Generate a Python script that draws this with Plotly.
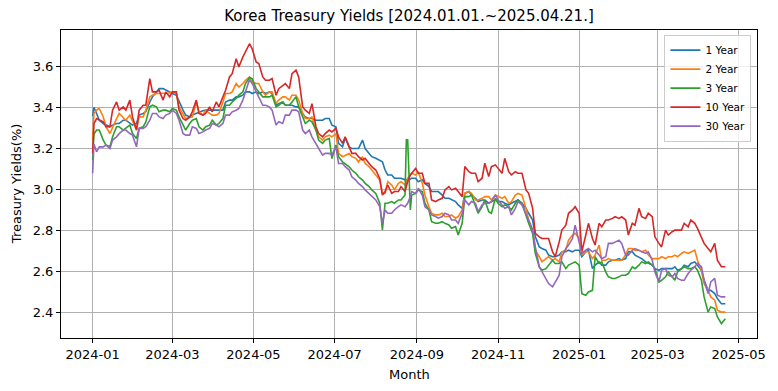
import plotly.graph_objects as go

# ---- dates (sampled) ----
dates = [
 "2024-01-01","2024-01-02","2024-01-04","2024-01-06","2024-01-09","2024-01-11","2024-01-14","2024-01-16","2024-01-19","2024-01-21",
 "2024-01-24","2024-01-26","2024-01-29","2024-01-31","2024-02-03","2024-02-05","2024-02-08","2024-02-10","2024-02-13","2024-02-15",
 "2024-02-18","2024-02-20","2024-02-23","2024-02-25","2024-02-28","2024-03-01","2024-03-04","2024-03-06","2024-03-09","2024-03-11",
 "2024-03-14","2024-03-16","2024-03-19","2024-03-21","2024-03-24","2024-03-26","2024-03-29","2024-03-31","2024-04-03","2024-04-05",
 "2024-04-08",
 "2024-04-10","2024-04-13","2024-04-15","2024-04-18","2024-04-20","2024-04-23","2024-04-25","2024-04-28","2024-04-30","2024-05-03",
 "2024-05-05","2024-05-08","2024-05-10","2024-05-13","2024-05-15","2024-05-18","2024-05-20","2024-05-23","2024-05-25","2024-05-28",
 "2024-05-30","2024-06-02","2024-06-04","2024-06-07","2024-06-09","2024-06-12","2024-06-14","2024-06-17","2024-06-19","2024-06-22",
 "2024-06-24","2024-06-27","2024-06-29","2024-07-02","2024-07-04","2024-07-07","2024-07-09","2024-07-12","2024-07-14","2024-07-17",
 "2024-07-19","2024-07-22","2024-07-24","2024-07-27","2024-07-29","2024-08-01","2024-08-04","2024-08-06",
 "2024-08-08","2024-08-10","2024-08-13","2024-08-15","2024-08-18","2024-08-20","2024-08-23","2024-08-24","2024-08-25","2024-08-27",
 "2024-08-28","2024-08-31","2024-09-02","2024-09-05","2024-09-07","2024-09-10","2024-09-12","2024-09-15","2024-09-17","2024-09-20",
 "2024-09-22","2024-09-25","2024-09-27","2024-09-30","2024-10-02","2024-10-05","2024-10-07","2024-10-10","2024-10-12","2024-10-15",
 "2024-10-17","2024-10-20","2024-10-22","2024-10-25","2024-10-27","2024-10-30","2024-11-01","2024-11-04","2024-11-06","2024-11-09",
 "2024-11-11","2024-11-14","2024-11-16","2024-11-19","2024-11-22","2024-11-24","2024-11-27","2024-11-29",
 "2024-12-02","2024-12-04","2024-12-07","2024-12-09","2024-12-12","2024-12-14","2024-12-17","2024-12-19","2024-12-22","2024-12-24",
 "2024-12-27","2024-12-29","2025-01-01","2025-01-03","2025-01-06","2025-01-08","2025-01-11","2025-01-13","2025-01-16","2025-01-18",
 "2025-01-21","2025-01-23","2025-01-26","2025-01-28","2025-01-31","2025-02-02","2025-02-05","2025-02-07","2025-02-10","2025-02-12",
 "2025-02-15","2025-02-17","2025-02-20","2025-02-22","2025-02-25","2025-02-27","2025-03-02","2025-03-04","2025-03-07","2025-03-09",
 "2025-03-12","2025-03-14","2025-03-16","2025-03-19","2025-03-21","2025-03-24","2025-03-26","2025-03-29","2025-03-31","2025-04-03",
 "2025-04-05","2025-04-08","2025-04-10","2025-04-13","2025-04-15","2025-04-18","2025-04-21",
]

y1 = [
 3.357,3.40,3.37,3.337,3.321,3.313,3.305,3.313,3.321,3.321,3.337,3.337,3.321,3.313,3.321,3.362,3.370,3.378,3.426,3.451,
 3.475,3.491,3.491,3.483,3.475,3.467,3.459,3.426,3.386,3.362,3.353,3.362,3.370,3.378,3.383,3.386,3.386,3.386,3.386,3.386,
 3.386,
 3.426,3.435,3.435,3.451,3.451,3.459,3.475,3.475,3.467,3.475,3.467,3.475,3.467,3.475,3.467,3.410,3.418,3.426,3.410,3.410,
 3.410,3.402,3.402,3.370,3.353,3.345,3.345,3.337,3.337,3.337,3.345,3.345,3.313,3.305,3.224,3.207,3.25,3.207,3.199,3.199,
 3.199,3.24,3.199,3.175,3.159,3.151,3.143,3.134,
 3.094,3.070,3.070,3.054,3.054,3.054,3.046,3.046,3.046,3.05,3.054,3.054,3.037,3.046,3.029,3.013,2.989,2.989,2.989,2.972,
 2.956,2.956,2.948,2.940,2.924,2.907,2.980,2.989,2.972,2.956,2.940,2.948,2.948,2.932,2.940,2.948,2.940,2.940,2.932,2.924,
 2.932,2.940,2.948,2.932,2.907,2.883,2.850,2.769,
 2.719,2.711,2.703,2.679,2.671,2.671,2.679,2.695,2.695,2.703,2.695,2.703,2.703,2.671,2.695,2.703,2.613,2.630,2.646,2.630,
 2.630,2.646,2.654,2.654,2.662,2.654,2.662,2.695,2.695,2.679,2.671,2.662,2.646,2.638,2.630,2.613,2.605,2.613,2.613,2.613,
 2.613,2.622,2.605,2.613,2.630,2.622,2.638,2.646,2.630,2.605,2.556,2.507,2.507,2.491,2.467,2.442,2.442,
]

y2 = [
 3.240,3.370,3.386,3.394,3.353,3.305,3.272,3.305,3.345,3.370,3.353,3.337,3.362,3.329,3.289,3.353,3.353,3.386,3.451,3.459,
 3.467,3.467,3.467,3.467,3.470,3.475,3.467,3.402,3.370,3.345,3.350,3.353,3.426,3.378,3.362,3.386,3.370,3.362,3.362,3.370,
 3.426,
 3.467,3.467,3.475,3.516,3.499,3.516,3.532,3.548,3.524,3.516,3.516,3.475,3.459,3.475,3.475,3.418,3.435,3.451,3.451,3.435,
 3.459,3.459,3.435,3.370,3.345,3.345,3.353,3.289,3.256,3.240,3.256,3.264,3.256,3.272,3.175,3.159,3.167,3.175,3.159,3.151,
 3.134,3.159,3.126,3.110,3.094,3.070,3.045,2.980,
 2.980,3.037,3.021,2.997,3.029,3.037,3.021,3.029,3.054,3.070,3.078,3.070,3.086,3.029,2.972,2.915,2.883,2.875,2.875,2.883,
 2.867,2.867,2.875,2.859,2.867,2.899,2.980,2.989,2.980,2.948,2.948,2.956,2.964,2.964,2.948,2.972,2.964,2.956,2.964,2.932,
 2.940,2.972,2.980,2.972,2.907,2.850,2.802,2.704,
 2.671,2.646,2.662,2.671,2.654,2.662,2.646,2.695,2.703,2.752,2.777,2.785,2.760,2.679,2.695,2.695,2.662,2.679,2.728,2.654,
 2.654,2.662,2.654,2.654,2.654,2.654,2.679,2.711,2.711,2.703,2.703,2.695,2.703,2.679,2.662,2.662,2.662,2.671,2.662,2.671,
 2.671,2.679,2.671,2.687,2.695,2.687,2.695,2.703,2.654,2.605,2.540,2.507,2.475,2.459,2.410,2.401,2.401,
]

y3 = [
 3.143,3.27,3.289,3.289,3.240,3.216,3.207,3.256,3.305,3.305,3.289,3.297,3.313,3.272,3.248,3.297,3.305,3.329,3.402,3.410,
 3.402,3.378,3.386,3.386,3.378,3.394,3.386,3.353,3.313,3.289,3.321,3.337,3.345,3.305,3.289,3.305,3.313,3.337,3.313,3.321,
 3.345,
 3.410,3.410,3.426,3.443,3.459,3.475,3.516,3.545,3.540,3.491,3.475,3.451,3.451,3.451,3.459,3.402,3.410,3.426,3.410,3.410,
 3.426,3.451,3.402,3.353,3.321,3.337,3.329,3.289,3.240,3.224,3.240,3.248,3.15,3.216,3.159,3.134,3.126,3.110,3.094,3.078,
 3.061,3.045,3.029,3.013,2.997,2.980,2.932,2.802,
 2.932,2.932,2.940,2.932,2.948,2.948,2.972,3.241,3.241,2.899,2.972,2.980,2.997,2.989,2.932,2.899,2.842,2.834,2.834,2.842,
 2.834,2.826,2.810,2.818,2.777,2.834,2.964,2.964,2.972,2.915,2.883,2.915,2.948,2.891,2.883,2.956,2.932,2.915,2.924,2.915,
 2.899,2.932,2.948,2.932,2.867,2.834,2.785,2.688,
 2.622,2.605,2.613,2.630,2.654,2.638,2.638,2.646,2.613,2.630,2.638,2.646,2.630,2.491,2.483,2.499,2.507,2.671,2.638,2.646,
 2.597,2.573,2.565,2.565,2.573,2.581,2.581,2.589,2.622,2.613,2.630,2.646,2.638,2.646,2.630,2.613,2.548,2.556,2.573,2.597,
 2.573,2.556,2.597,2.613,2.622,2.613,2.613,2.622,2.605,2.556,2.475,2.401,2.426,2.418,2.377,2.345,2.369,
]

y10 = [
 3.175,3.32,3.345,3.337,3.329,3.305,3.305,3.386,3.426,3.386,3.402,3.386,3.435,3.353,3.289,3.386,3.410,3.410,3.540,3.475,
 3.475,3.483,3.435,3.475,3.451,3.475,3.475,3.386,3.345,3.337,3.353,3.378,3.435,3.370,3.362,3.370,3.402,3.378,3.426,3.402,
 3.451,
 3.483,3.548,3.564,3.637,3.597,3.645,3.670,3.710,3.686,3.621,3.613,3.548,3.532,3.532,3.540,3.459,3.491,3.508,3.516,3.491,
 3.564,3.581,3.548,3.402,3.386,3.370,3.418,3.305,3.272,3.256,3.272,3.289,3.280,3.297,3.256,3.224,3.256,3.207,3.175,3.175,
 3.159,3.143,3.151,3.126,3.110,3.094,3.053,2.972,
 2.989,3.021,2.980,2.989,2.989,3.013,2.989,3.013,3.037,3.070,3.078,3.102,3.078,3.078,3.029,3.029,2.948,2.940,2.948,2.956,
 2.997,3.013,2.997,3.005,2.989,2.964,3.111,3.086,3.078,3.078,3.037,3.054,3.127,3.062,3.111,3.119,3.102,3.078,3.151,3.086,
 3.070,3.086,3.078,3.078,2.997,2.980,2.907,2.785,
 2.768,2.760,2.760,2.760,2.695,2.671,2.744,2.801,2.825,2.883,2.899,2.915,2.883,2.695,2.777,2.834,2.760,2.728,2.834,2.817,
 2.850,2.850,2.858,2.866,2.858,2.866,2.850,2.777,2.834,2.825,2.907,2.866,2.858,2.883,2.866,2.768,2.736,2.719,2.801,2.777,
 2.793,2.801,2.801,2.801,2.834,2.817,2.850,2.834,2.809,2.760,2.736,2.711,2.695,2.736,2.654,2.622,2.622,
]

y30 = [
 3.078,3.22,3.183,3.207,3.207,3.216,3.199,3.240,3.256,3.272,3.289,3.289,3.272,3.264,3.207,3.297,3.297,3.305,3.337,3.370,
 3.370,3.353,3.345,3.362,3.370,3.386,3.370,3.337,3.272,3.264,3.264,3.305,3.297,3.272,3.280,3.289,3.297,3.321,3.313,3.305,
 3.321,
 3.362,3.362,3.378,3.386,3.394,3.435,3.475,3.535,3.516,3.475,3.443,3.410,3.410,3.402,3.386,3.313,3.329,3.321,3.362,3.362,
 3.386,3.386,3.378,3.289,3.272,3.289,3.256,3.224,3.199,3.167,3.175,3.175,3.167,3.207,3.126,3.126,3.110,3.094,3.061,3.045,
 3.029,3.013,2.997,2.980,2.964,2.948,2.916,2.834,
 2.899,2.883,2.883,2.899,2.915,2.924,2.915,2.924,2.932,2.964,2.989,2.980,3.005,2.972,2.915,2.899,2.875,2.867,2.859,2.867,
 2.883,2.875,2.850,2.850,2.834,2.883,2.948,2.924,2.940,2.932,2.891,2.924,2.932,2.932,2.940,2.972,2.948,2.924,2.907,2.915,
 2.875,2.907,2.940,2.924,2.883,2.850,2.802,2.720,
 2.622,2.597,2.565,2.540,2.524,2.548,2.581,2.671,2.711,2.728,2.760,2.825,2.744,2.687,2.703,2.711,2.695,2.703,2.679,2.662,
 2.671,2.736,2.736,2.744,2.752,2.736,2.679,2.679,2.703,2.711,2.703,2.695,2.687,2.695,2.654,2.597,2.548,2.605,2.613,2.581,
 2.573,2.589,2.565,2.556,2.556,2.589,2.605,2.622,2.638,2.622,2.556,2.491,2.548,2.565,2.483,2.475,2.475,
]

series_names = ["1 Year", "2 Year", "3 Year", "10 Year", "30 Year"]
series_values = [y1, y2, y3, y10, y30]
colors = ["#1f77b4", "#ff7f0e", "#2ca02c", "#d62728", "#9467bd"]

tick_vals = ["2024-01-01", "2024-03-01", "2024-05-01", "2024-07-01", "2024-09-01",
             "2024-11-01", "2025-01-01", "2025-03-01", "2025-05-01"]
tick_text = ["2024-01", "2024-03", "2024-05", "2024-07", "2024-09",
             "2024-11", "2025-01", "2025-03", "2025-05"]

fig = go.Figure()
for name, vals, col in zip(series_names, series_values, colors):
    fig.add_trace(go.Scatter(x=dates, y=vals, mode="lines", name=name,
                             line=dict(color=col, width=1.6)))

font_family = "DejaVu Sans, sans-serif"
fig.update_layout(
    width=778, height=391,
    margin=dict(l=61, r=19, t=30, b=53),
    paper_bgcolor="white", plot_bgcolor="white",
    font=dict(family=font_family, size=13, color="black"),
    title=dict(text="Korea Treasury Yields [2024.01.01.~2025.04.21.]",
               x=0.5, xref="paper", xanchor="center",
               y=1 - 16 / 391, yref="container", yanchor="middle",
               font=dict(size=15, color="black")),
    showlegend=True,
    legend=dict(x=0.992, y=0.985, xanchor="right", yanchor="top",
                bgcolor="rgba(255,255,255,0.8)", bordercolor="#cccccc", borderwidth=1,
                font=dict(size=10.5, color="black"), tracegroupgap=0,
                itemwidth=30),
    xaxis=dict(type="date", range=["2023-12-08 05:00", "2025-05-14 19:00"],
               tickvals=tick_vals, ticktext=tick_text,
               showgrid=True, gridcolor="#b0b0b0", gridwidth=1,
               showline=True, linecolor="black", linewidth=1, mirror=True,
               ticks="outside", ticklen=4, tickcolor="black", tickwidth=1,
               tickfont=dict(size=13), zeroline=False),
    yaxis=dict(range=[2.2746, 3.777], tickvals=[2.4, 2.6, 2.8, 3.0, 3.2, 3.4, 3.6],
               ticktext=["2.4", "2.6", "2.8", "3.0", "3.2", "3.4", "3.6"],
               showgrid=True, gridcolor="#b0b0b0", gridwidth=1,
               showline=True, linecolor="black", linewidth=1, mirror=True,
               ticks="outside", ticklen=4, tickcolor="black", tickwidth=1,
               tickfont=dict(size=13), zeroline=False),
    annotations=[
        dict(text="Month", x=0.5, xref="paper", y=(338 - 374) / 308, yref="paper",
             xanchor="center", yanchor="middle", showarrow=False, font=dict(size=13)),
        dict(text="Treasury Yields(%)", x=(16 - 61) / 698, xref="paper", y=0.5, yref="paper",
             xanchor="center", yanchor="middle", textangle=-90, showarrow=False,
             font=dict(size=13)),
    ],
)

fig.write_html("out.html", config={"displayModeBar": False},
               post_script="document.body.style.margin='0';document.body.style.padding='0';")
